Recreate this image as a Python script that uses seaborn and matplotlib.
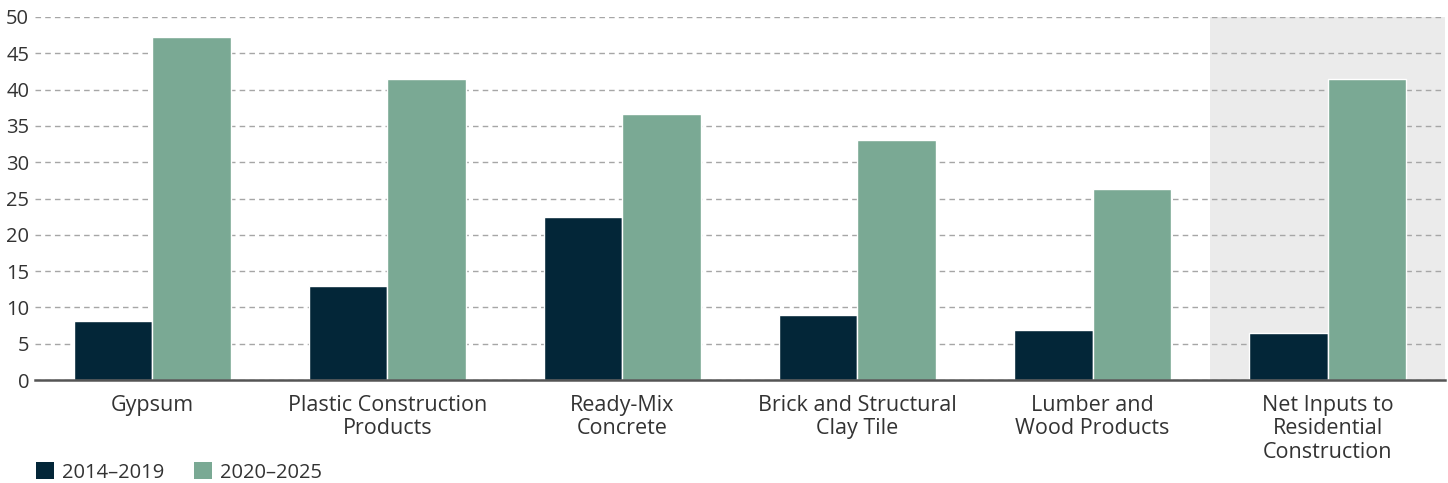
import matplotlib
matplotlib.use("Agg")
import matplotlib.pyplot as plt
import seaborn as sns
import pandas as pd
from matplotlib.patches import Patch

categories = [
    "Gypsum",
    "Plastic Construction\nProducts",
    "Ready-Mix\nConcrete",
    "Brick and Structural\nClay Tile",
    "Lumber and\nWood Products",
    "Net Inputs to\nResidential\nConstruction",
]
series_names = ["2014\u20132019", "2020\u20132025"]
values_2014_2019 = [8.1, 12.9, 22.5, 9.0, 6.9, 6.5]
values_2020_2025 = [47.2, 41.5, 36.6, 33.1, 26.3, 41.5]
y_ticks = [0, 5, 10, 15, 20, 25, 30, 35, 40, 45, 50]

colors = ["#032638", "#7aa994"]
text_color = "#333333"

df = pd.DataFrame({
    "category": categories * 2,
    "period": [series_names[0]] * len(categories) + [series_names[1]] * len(categories),
    "value": values_2014_2019 + values_2020_2025,
})

sns.set_theme(style="white")
plt.rcParams["font.family"] = ["Open Sans", "DejaVu Sans"]

fig = plt.figure(figsize=(14.48, 4.83), dpi=100)
ax = fig.add_axes([0.024, 0.213, 0.974, 0.752])

# highlighted aggregate category
ax.axvspan(4.5, 5.5, color="#ebebeb", zorder=0, lw=0)

sns.barplot(
    data=df, x="category", y="value", hue="period",
    palette=colors, saturation=1, width=0.67, gap=0, ax=ax,
    edgecolor="white", linewidth=1, legend=False, zorder=2,
)

ax.set_xlim(-0.5, 5.5)
ax.set_ylim(0, 50)
ax.set_yticks(y_ticks)
ax.yaxis.grid(True, linestyle=(0, (4, 3)), color="#a6a6a6", linewidth=1)
ax.set_axisbelow(True)
for gl in ax.get_ygridlines():
    gl.set_zorder(1)

ax.set_xlabel("")
ax.set_ylabel("")
for s in ["top", "right", "left"]:
    ax.spines[s].set_visible(False)
ax.spines["bottom"].set_color("#555555")
ax.spines["bottom"].set_linewidth(1.8)
ax.spines["bottom"].set_zorder(3)

ax.tick_params(axis="y", length=0, pad=4, labelsize=14.5, labelcolor=text_color)
ax.tick_params(axis="x", length=0, pad=11, labelsize=15.5, labelcolor=text_color)
for lbl in ax.get_xticklabels():
    lbl.set_linespacing(1.13)

handles = [Patch(facecolor=c, edgecolor="none") for c in colors]
fig.legend(
    handles, series_names, loc="lower left", bbox_to_anchor=(0.012, -0.037),
    ncol=2, frameon=False, fontsize=14.5, handlelength=0.9, handleheight=0.9,
    handletextpad=0.4, columnspacing=1.5, labelcolor=text_color,
)

fig.savefig("out.png", dpi=100)
